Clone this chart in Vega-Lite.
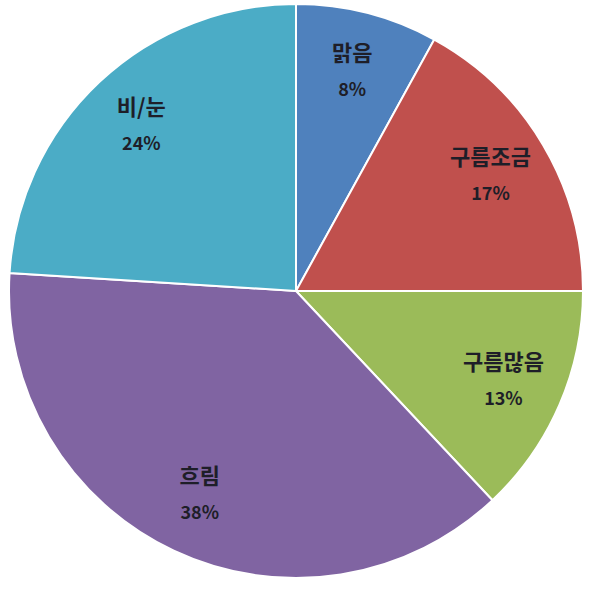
{
  "$schema": "https://vega.github.io/schema/vega-lite/v6.json",
  "width": 592,
  "height": 582,
  "padding": {"left": 0, "top": 0, "right": 4, "bottom": 18},
  "background": "#ffffff",
  "config": {"view": {"stroke": "transparent"}},
  "data": {
    "values": [
      {"weather": "맑음", "pct": 8, "label": "8%", "order": 1},
      {"weather": "구름조금", "pct": 17, "label": "17%", "order": 2},
      {"weather": "구름많음", "pct": 13, "label": "13%", "order": 3},
      {"weather": "흐림", "pct": 38, "label": "38%", "order": 4},
      {"weather": "비/눈", "pct": 24, "label": "24%", "order": 5}
    ]
  },
  "encoding": {
    "theta": {"field": "pct", "type": "quantitative", "stack": true},
    "order": {"field": "order", "type": "quantitative"},
    "color": {
      "field": "weather",
      "type": "nominal",
      "legend": null,
      "scale": {
        "domain": ["맑음", "구름조금", "구름많음", "흐림", "비/눈"],
        "range": ["#4f81bd", "#c0504d", "#9bbb59", "#8064a2", "#4bacc6"]
      }
    }
  },
  "layer": [
    {
      "mark": {"type": "arc", "outerRadius": 287, "stroke": "#ffffff", "strokeWidth": 2}
    },
    {
      "mark": {"type": "text", "radius": 226, "dy": -18, "font": "Noto Sans CJK KR", "fontSize": 22, "fontWeight": "bold"},
      "encoding": {"text": {"field": "weather"}, "color": {"value": "#1e1e28"}}
    },
    {
      "mark": {"type": "text", "radius": 226, "dy": 19, "font": "Noto Sans CJK KR", "fontSize": 18, "fontWeight": "bold"},
      "encoding": {"text": {"field": "label"}, "color": {"value": "#1e1e28"}}
    }
  ]
}
